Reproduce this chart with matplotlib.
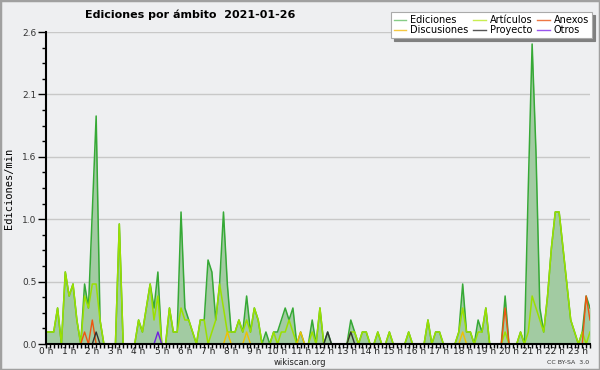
import numpy as np
import matplotlib
matplotlib.use("Agg")
import matplotlib.pyplot as plt
from matplotlib.lines import Line2D
from matplotlib.patches import Rectangle
from matplotlib.ticker import MultipleLocator, FixedLocator

# edits per minute, 10-minute bins from 00:00 to 23:30
ediciones = [
    0.1, 0.1, 0.1, 0.3, 0.0, 0.6, 0.4, 0.5, 0.2, 0.0,
    0.5, 0.3, 1.1, 1.9, 0.2, 0.0, 0.0, 0.0, 0.0, 1.0,
    0.0, 0.0, 0.0, 0.0, 0.2, 0.1, 0.3, 0.5, 0.3, 0.6,
    0.0, 0.0, 0.3, 0.1, 0.1, 1.1, 0.3, 0.2, 0.1, 0.0,
    0.2, 0.2, 0.7, 0.6, 0.2, 0.5, 1.1, 0.5, 0.1, 0.1,
    0.2, 0.1, 0.4, 0.1, 0.3, 0.2, 0.0, 0.1, 0.0, 0.1,
    0.1, 0.2, 0.3, 0.2, 0.3, 0.0, 0.1, 0.0, 0.0, 0.2,
    0.0, 0.3, 0.0, 0.1, 0.0, 0.0, 0.0, 0.0, 0.0, 0.2,
    0.1, 0.0, 0.1, 0.1, 0.0, 0.0, 0.1, 0.0, 0.0, 0.1,
    0.0, 0.0, 0.0, 0.0, 0.1, 0.0, 0.0, 0.0, 0.0, 0.2,
    0.0, 0.1, 0.1, 0.0, 0.0, 0.0, 0.0, 0.1, 0.5, 0.1,
    0.1, 0.0, 0.2, 0.1, 0.3, 0.0, 0.0, 0.0, 0.0, 0.4,
    0.0, 0.0, 0.0, 0.1, 0.0, 1.3, 2.5, 1.6, 0.3, 0.1,
    0.4, 0.8, 1.1, 1.1, 0.8, 0.5, 0.2, 0.1, 0.0, 0.1,
    0.4, 0.3,
]
articulos = [
    0.1, 0.1, 0.1, 0.3, 0.0, 0.6, 0.4, 0.5, 0.2, 0.0,
    0.4, 0.3, 0.5, 0.5, 0.2, 0.0, 0.0, 0.0, 0.0, 1.0,
    0.0, 0.0, 0.0, 0.0, 0.2, 0.1, 0.3, 0.5, 0.2, 0.4,
    0.0, 0.0, 0.3, 0.1, 0.1, 0.3, 0.2, 0.2, 0.1, 0.0,
    0.2, 0.2, 0.0, 0.1, 0.2, 0.5, 0.3, 0.1, 0.1, 0.1,
    0.2, 0.1, 0.2, 0.1, 0.3, 0.2, 0.0, 0.0, 0.0, 0.1,
    0.0, 0.1, 0.1, 0.2, 0.1, 0.0, 0.0, 0.0, 0.0, 0.1,
    0.0, 0.3, 0.0, 0.0, 0.0, 0.0, 0.0, 0.0, 0.0, 0.1,
    0.1, 0.0, 0.1, 0.1, 0.0, 0.0, 0.1, 0.0, 0.0, 0.1,
    0.0, 0.0, 0.0, 0.0, 0.1, 0.0, 0.0, 0.0, 0.0, 0.2,
    0.0, 0.1, 0.1, 0.0, 0.0, 0.0, 0.0, 0.1, 0.3, 0.1,
    0.1, 0.0, 0.1, 0.1, 0.3, 0.0, 0.0, 0.0, 0.0, 0.1,
    0.0, 0.0, 0.0, 0.1, 0.0, 0.1, 0.4, 0.3, 0.2, 0.1,
    0.4, 0.8, 1.1, 1.1, 0.8, 0.5, 0.2, 0.1, 0.0, 0.1,
    0.0, 0.1,
]
anexos = [0.0] * 142
anexos[10], anexos[12], anexos[119], anexos[140], anexos[141] = 0.1, 0.2, 0.3, 0.4, 0.2
discusiones = [0.0] * 142
discusiones[47], discusiones[52], discusiones[66], discusiones[108] = 0.1, 0.1, 0.1, 0.1
proyecto = [0.0] * 142
proyecto[13], proyecto[73], proyecto[79] = 0.1, 0.1, 0.1
otros = [0.0] * 142
otros[29] = 0.1

hours = np.arange(len(ediciones)) / 6.0
hour_labels = [f"{h} h" for h in range(24)]

bg = "#eeeff1"
fig = plt.figure(figsize=(6, 3.7), dpi=100, facecolor=bg)
ax = fig.add_axes([46 / 600, 26 / 370, 544 / 600, 312 / 370], facecolor=bg)

ax.fill_between(hours, ediciones, 0, color="#a2cba2", lw=0, zorder=1)
ax.plot(hours, ediciones, color="#36a936", lw=1.1, zorder=2)
ax.plot(hours, articulos, color="#9be000", lw=1.1, zorder=2.1)
ax.plot(hours, discusiones, color="#f0c000", lw=1.0, zorder=2.2)
ax.plot(hours, anexos, color="#ee5511", lw=1.0, zorder=2.2)
ax.plot(hours, proyecto, color="#333333", lw=1.0, zorder=2.2)
ax.plot(hours, otros, color="#7020e0", lw=1.0, zorder=2.2)

ax.set_xlim(0, hours[-1])
ax.set_ylim(0, 2.6)

yt = [0, 0.52, 1.04, 1.56, 2.08, 2.6]
ax.yaxis.set_major_locator(FixedLocator(yt))
ax.set_yticklabels([f"{v:.1f}" for v in yt])
ax.yaxis.set_minor_locator(MultipleLocator(0.13))
ax.xaxis.set_major_locator(FixedLocator(range(24)))
ax.set_xticklabels(hour_labels)
ax.xaxis.set_minor_locator(MultipleLocator(1 / 6))

ax.grid(axis="y", color="#c8c8c8", lw=1.0, zorder=0)
ax.set_axisbelow(True)
for s in ["top", "right"]:
    ax.spines[s].set_visible(False)
for s in ["left", "bottom"]:
    ax.spines[s].set_linewidth(1.5)
    ax.spines[s].set_zorder(3)

ax.tick_params(axis="y", which="major", length=6, width=1, labelsize=6.5,
               labelcolor="#333333", pad=1)
ax.tick_params(axis="y", which="minor", length=3, width=1)
ax.tick_params(axis="x", which="major", length=3, width=1, labelsize=6.5,
               labelcolor="#222222", pad=-0.5)
ax.tick_params(axis="x", which="minor", length=3, width=1)

ax.set_ylabel("Ediciones/min", fontsize=7.5, family="DejaVu Sans Mono", labelpad=6)

fig.text(85 / 600, 1 - 15 / 370, "Ediciones por ámbito  2021-01-26",
         fontsize=8, fontweight="bold", va="center", ha="left")
fig.text(300 / 600, 1 - 362.5 / 370, "wikiscan.org", fontsize=6,
         ha="center", va="center", color="#222222")
fig.text(589 / 600, 1 - 362.5 / 370, "CC BY-SA  3.0", fontsize=4.5,
         ha="right", va="center", color="#333333")

handles = [
    Line2D([], [], color="#86cc86", lw=1),
    Line2D([], [], color="#f5c842", lw=1),
    Line2D([], [], color="#c8ee50", lw=1),
    Line2D([], [], color="#555555", lw=1),
    Line2D([], [], color="#ee7744", lw=1),
    Line2D([], [], color="#9955ee", lw=1),
]
names = ["Ediciones", "Discusiones", "Artículos", "Proyecto", "Anexos", "Otros"]
leg = fig.legend(handles, names, ncol=3, loc="upper right",
                 bbox_to_anchor=(592 / 600, 1 - 12 / 370), fontsize=7,
                 frameon=True, fancybox=False, shadow={"color": "#808080", "alpha": 1},
                 handlelength=1.3, handletextpad=0.4, columnspacing=0.5,
                 labelspacing=0.05, borderpad=0.3, borderaxespad=0)
leg.get_frame().set_edgecolor("#aaaaaa")
leg.get_frame().set_linewidth(0.8)

fig.add_artist(Rectangle((0, 0), 1, 1, transform=fig.transFigure, fill=False,
                         edgecolor="#a0a0a0", lw=2.5))

fig.savefig("out.png", dpi=100, facecolor=bg)
